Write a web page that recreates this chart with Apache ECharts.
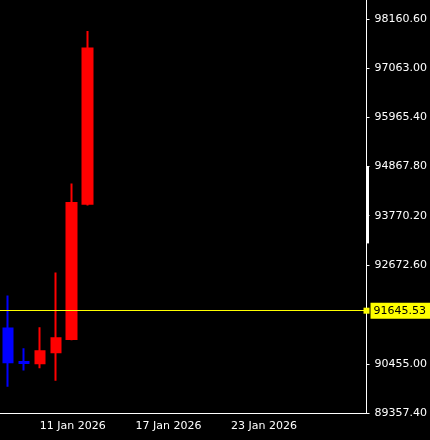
<!DOCTYPE html>
<html>
<head>
<meta charset="utf-8">
<script src="https://cdn.jsdelivr.net/npm/echarts@6/dist/echarts.min.js"></script>
<style>
  html, body { margin: 0; padding: 0; background: #000; }
  #chart { width: 430px; height: 440px; }
</style>
</head>
<body>
<div id="chart"></div>
<script>
// daily candles, 9 Jan 2026 onwards
const days = []
for (let d = 9; d <= 31; d++) days.push(d + ' Jan 2026')
const opens = [91246, 90500, 90468, 90715, 91010, 94039]
const closes = [90491, 90477, 90737, 91028, 94052, 97511]
const lows = [89946, 90305, 90356, 90081, 90985, 93995]
const highs = [91985, 90804, 91275, 92500, 94487, 97898]
const lastPrice = 91645.53

// price scale, labels as printed by the terminal
const yMin = 89357.4
const yMax = 98593
const yTicks = [89357.4, 90455.0, 92672.6, 93770.2, 94867.8, 95965.4, 97063.0, 98160.6]

const candles = opens.map((o, i) => [o, closes[i], lows[i], highs[i]])

const chart = echarts.init(document.getElementById('chart'))
const font = 'DejaVu Sans'
const showDay = i => (i - 2) % 6 === 0 && i < 20

chart.setOption({
  backgroundColor: '#000',
  animation: false,
  grid: { left: 0, right: 62, top: 0, bottom: 27 },
  xAxis: {
    type: 'category',
    data: days,
    boundaryGap: true,
    axisLine: { lineStyle: { color: '#fff', width: 1 } },
    axisTick: {
      alignWithLabel: true,
      length: 4,
      lineStyle: { color: '#fff' },
      interval: showDay
    },
    axisLabel: {
      color: '#fff',
      fontFamily: font,
      fontSize: 11,
      margin: 8,
      align: 'left',
      interval: showDay
    },
    splitLine: { show: false }
  },
  yAxis: {
    type: 'value',
    position: 'right',
    min: yMin,
    max: yMax,
    axisLine: { show: true, lineStyle: { color: '#fff', width: 1 } },
    axisTick: { show: true, length: 3, lineStyle: { color: '#fff' }, customValues: yTicks },
    axisLabel: {
      color: '#fff',
      fontFamily: font,
      fontSize: 11,
      margin: 8,
      customValues: yTicks,
      formatter: v => v.toFixed(2)
    },
    splitLine: { show: false }
  },
  series: [{
    type: 'candlestick',
    data: candles,
    barWidth: 10,
    itemStyle: {
      color: '#ff0000',
      borderColor: '#ff0000',
      color0: '#0000ff',
      borderColor0: '#0000ff',
      borderWidth: 2
    },
    markLine: {
      silent: true,
      symbol: ['none', 'rect'],
      symbolSize: 6,
      lineStyle: { color: '#ffff00', type: 'solid', width: 1 },
      label: {
        position: 'end',
        distance: 4,
        formatter: () => lastPrice.toFixed(2),
        color: '#000',
        backgroundColor: '#ffff00',
        fontFamily: font,
        fontSize: 11,
        padding: [3, 4, 2, 3]
      },
      data: [{ yAxis: lastPrice }]
    }
  }]
})

// terminal's scroll marker on the price scale
const markTop = chart.convertToPixel({ yAxisIndex: 0 }, 94867.8)
const markBot = chart.convertToPixel({ yAxisIndex: 0 }, 93150)
chart.setOption({
  graphic: [{
    type: 'rect',
    shape: { x: 366, y: markTop, width: 3, height: markBot - markTop },
    style: { fill: '#fff' }
  }]
})
</script>
</body>
</html>
